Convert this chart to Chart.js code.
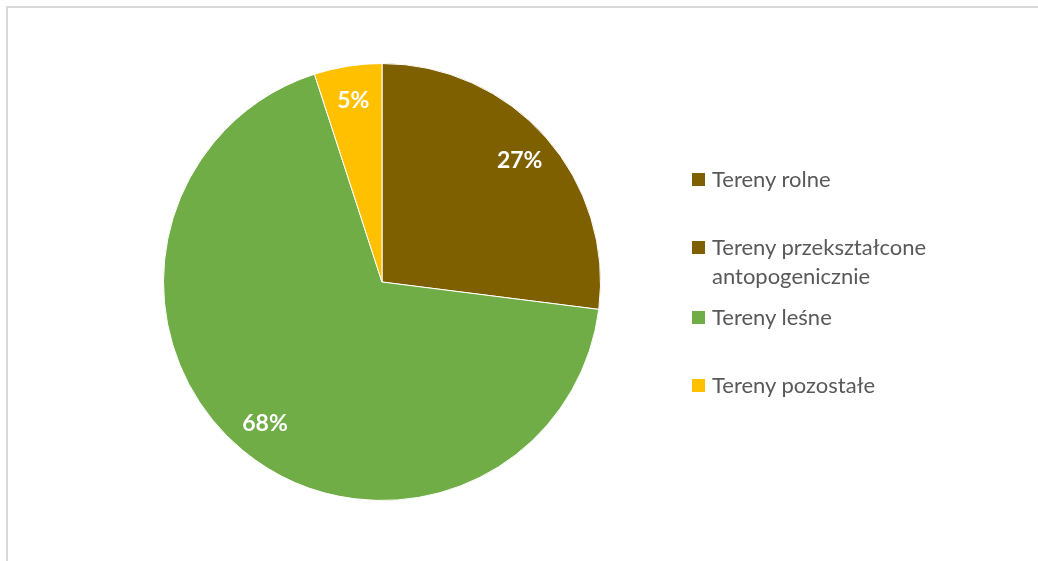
<!DOCTYPE html>
<html>
<head>
<meta charset="utf-8">
<script src="https://cdn.jsdelivr.net/npm/chart.js@4/dist/chart.umd.min.js"></script>
<style>
  html, body { margin: 0; padding: 0; background: #fff; overflow: hidden; }
  #wrap { position: relative; width: 1038px; height: 561px; overflow: hidden; }
  #frame { position: absolute; left: 6px; top: 6px; right: 0; bottom: 0;
           border-top: 2px solid #d9d9d9; border-left: 2px solid #d9d9d9; }
  #pie { position: absolute; left: 0; top: 0; }
  #legend { position: absolute; left: 692px; top: 164px; font-family: Lato, "Open Sans", sans-serif;
            font-size: 22px; color: #595959; }
  .item { position: absolute; left: 0; white-space: nowrap; line-height: 29px; }
  .sw { position: absolute; left: 0; top: 9px; width: 13px; height: 13px; }
  .txt { position: absolute; left: 20px; top: 0; }
</style>
</head>
<body>
<div id="wrap">
  <div id="frame"></div>
  <canvas id="pie" width="1038" height="561"></canvas>
  <div id="legend"></div>
</div>
<script>
// PIE CHART - STRUKTURA TERENÓW

const categories = [
    'Tereny rolne',
    ['Tereny przekształcone', 'antopogenicznie'],
    'Tereny leśne',
    'Tereny pozostałe'
];
const values = [27, 0, 68, 5];
const colors = ['#7F6000', '#7F6000', '#70AD47', '#FFC000'];
const legendTops = [0, 68, 138, 206];

// labels inside the slices, like Excel does
const sliceLabels = {
    id: 'sliceLabels',
    afterDatasetsDraw(chart) {
        const ctx = chart.ctx;
        const total = values.reduce((a, b) => a + b, 0);
        chart.getDatasetMeta(0).data.forEach((arc, i) => {
            if (!values[i]) return;
            const p = arc.getProps(['x', 'y', 'startAngle', 'endAngle', 'outerRadius'], true);
            const mid = (p.startAngle + p.endAngle) / 2;
            const r = p.outerRadius * 0.84;
            ctx.save();
            ctx.fillStyle = '#ffffff';
            ctx.font = 'bold 23px Lato, "Open Sans", sans-serif';
            ctx.textAlign = 'center';
            ctx.textBaseline = 'middle';
            ctx.fillText(Math.round(values[i] / total * 100) + '%', p.x + Math.cos(mid) * r, p.y + Math.sin(mid) * r);
            ctx.restore();
        });
    }
};

const chart = new Chart(document.getElementById('pie'), {
    type: 'pie',
    data: {
        labels: categories,
        datasets: [{
            data: values,
            backgroundColor: colors,
            borderColor: '#ffffff',
            borderWidth: 1
        }]
    },
    options: {
        responsive: false,
        animation: false,
        layout: {
            padding: { left: 163, top: 63, right: 437, bottom: 60 }
        },
        plugins: {
            legend: { display: false },
            tooltip: { enabled: false }
        }
    },
    plugins: [sliceLabels]
});

// html legend
const legendEl = document.getElementById('legend');
chart.data.labels.forEach((lab, i) => {
    const item = document.createElement('div');
    item.className = 'item';
    item.style.top = legendTops[i] + 'px';
    const sw = document.createElement('span');
    sw.className = 'sw';
    sw.style.background = colors[i];
    const t = document.createElement('span');
    t.className = 'txt';
    t.innerHTML = Array.isArray(lab) ? lab.join('<br>') : lab;
    item.appendChild(sw);
    item.appendChild(t);
    legendEl.appendChild(item);
});
</script>
</body>
</html>
